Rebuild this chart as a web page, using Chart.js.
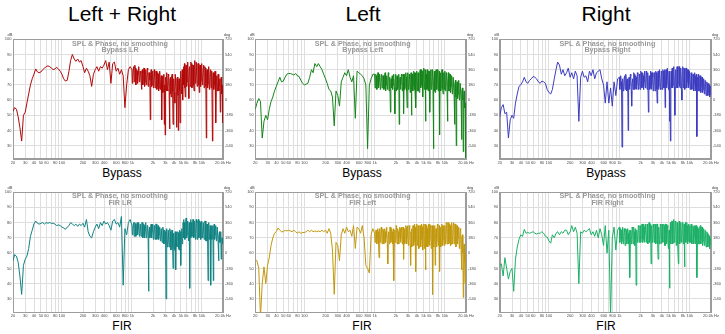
<!DOCTYPE html>
<html>
<head>
<meta charset="utf-8">
<script src="https://cdn.jsdelivr.net/npm/chart.js@4.4.1/dist/chart.umd.min.js"></script>
<style>
  body { margin: 0; width: 725px; height: 334px; background: #fff; position: relative; overflow: hidden;
         font-family: "Liberation Sans", Arial, sans-serif; color: #000; }
  .head { position: absolute; top: 3px; width: 200px; text-align: center; font-size: 21px; line-height: 21px; }
  .cap { position: absolute; width: 100px; text-align: center; font-size: 12px; line-height: 12px; }
  canvas { position: absolute; }
</style>
</head>
<body>
<div class="head" style="left:22px">Left + Right</div>
<div class="head" style="left:263px">Left</div>
<div class="head" style="left:506px">Right</div>
<div class="cap" style="left:72px;top:167px">Bypass</div>
<div class="cap" style="left:312px;top:167px">Bypass</div>
<div class="cap" style="left:556px;top:167px">Bypass</div>
<div class="cap" style="left:72px;top:320px">FIR</div>
<div class="cap" style="left:312px;top:320px">FIR</div>
<div class="cap" style="left:556px;top:320px">FIR</div>

<script>
// measurement frequencies (Hz): coarse below 1 kHz, fine above
const freqHz = [
  20, 21.1, 22.4, 23.7, 25.1, 26.6, 28.2, 29.9, 31.6, 33.5,
  35.5, 37.6, 39.8, 42.2, 44.7, 47.3, 50.1, 53.1, 56.2, 59.6,
  63.1, 66.8, 70.8, 75, 79.4, 84.1, 89.1, 94.4,
  100, 106, 112, 119, 126, 133, 141, 150, 158, 168,
  178, 188, 200, 211, 224, 237, 251, 266, 282, 299,
  316, 335, 355, 376, 398, 422, 447, 473, 501, 531,
  562, 596, 631, 668, 708, 750, 794, 841, 891, 944,
  1000, 1014, 1029, 1044, 1059, 1075, 1090, 1106, 1122, 1138, 1155, 1172, 1189, 1206, 1223, 1241, 1259, 1277, 1296, 1314,
  1334, 1353, 1372, 1392, 1413, 1433, 1454, 1475, 1496, 1518, 1540, 1562, 1585, 1608, 1631, 1655, 1679, 1703, 1728, 1753,
  1778, 1804, 1830, 1857, 1884, 1911, 1939, 1967, 1995, 2024, 2054, 2083, 2113, 2144, 2175, 2207, 2239, 2271, 2304, 2337,
  2371, 2406, 2441, 2476, 2512, 2548, 2585, 2623, 2661, 2699, 2738, 2778, 2818, 2859, 2901, 2943, 2985, 3029, 3073, 3117,
  3162, 3208, 3255, 3302, 3350, 3398, 3447, 3497, 3548, 3599, 3652, 3705, 3758, 3813, 3868, 3924, 3981, 4039, 4097, 4157,
  4217, 4278, 4340, 4403, 4467, 4531, 4597, 4664, 4732, 4800, 4870, 4940, 5012, 5084, 5158, 5233, 5309, 5386, 5464, 5543,
  5623, 5705, 5788, 5871, 5957, 6043, 6131, 6219, 6310, 6401, 6494, 6588, 6683, 6780, 6879, 6978, 7079, 7182, 7286, 7392,
  7499, 7607, 7718, 7830, 7943, 8058, 8175, 8294, 8414, 8536, 8660, 8785, 8913, 9041, 9173, 9306, 9441, 9577, 9716, 9857,
  10000, 10145, 10292, 10441, 10593, 10746, 10902, 11060, 11220, 11383, 11548, 11715, 11885, 12057, 12232, 12409, 12589, 12771, 12957, 13144,
  13335, 13528, 13725, 13924, 14125, 14330, 14538, 14748, 14962, 15179, 15399, 15622, 15849, 16078, 16312, 16548, 16788, 17031, 17278, 17528,
  17783, 18040, 18302, 18567, 18836, 19109, 19387, 19667, 19953
];

// SPL (dB) per measurement
const bypassLR = [
  52.5, 55, 54, 49, 42, 33, 50, 52, 58, 64,
  70, 74, 77, 80.5, 78.5, 78, 78.5, 80, 81, 82,
  82.5, 82, 81, 80, 80.5, 81.5, 80.5, 79,
  77, 74, 72.5, 73, 79, 86, 90, 87, 85.5, 87,
  85, 86, 82, 78, 81, 79, 76, 69, 77, 80,
  82, 79, 82, 81, 83, 86, 80, 85, 71, 84,
  85, 79, 81, 77, 80, 76, 55, 70, 80, 82,
  80, 71, 76, 81, 82, 72, 78, 83, 81, 70, 74, 80, 79, 71, 77, 82, 82, 72, 73, 79,
  78, 72, 67, 79, 80, 70, 75, 81, 81, 69, 72, 80, 79, 70, 74, 81, 80, 69, 71, 78,
  78, 73, 47, 77, 80, 69, 70, 79, 78, 68, 73, 80, 76, 68, 72, 79, 79, 67, 70, 78,
  77, 66, 68, 78, 79, 67, 70, 76, 47, 72, 76, 65, 66, 77, 44, 70, 37, 75, 72, 66,
  78, 67, 66, 77, 76, 65, 41, 73, 75, 64, 62, 76, 77, 66, 44, 72, 74, 65, 58, 77,
  77, 66, 42, 74, 75, 63, 40, 72, 74, 66, 45, 78, 79, 67, 64, 80, 60, 76, 82, 70,
  84, 68, 62, 82, 83, 69, 72, 84, 85, 70, 61, 81, 82, 69, 74, 85, 84, 68, 70, 83,
  83, 70, 66, 84, 86, 71, 75, 85, 85, 69, 72, 84, 84, 70, 65, 82, 83, 69, 73, 84,
  82, 70, 74, 81, 83, 68, 70, 82, 81, 69, 35, 78, 80, 68, 71, 81, 82, 67, 68, 79,
  80, 68, 72, 79, 33, 75, 78, 67, 70, 78, 79, 66, 45, 74, 76, 66, 68, 77, 77, 66,
  72, 74, 52, 70, 75, 64, 68, 70, 45
];
const bypassLeft = [
  54, 58, 61, 59, 35, 46, 50, 47, 54, 59,
  62, 66, 69, 72, 75, 72, 72.5, 75, 77, 77.5,
  77.5, 77, 76.5, 77.5, 76, 75.5, 73, 71,
  70, 70.5, 71, 75, 80, 78, 84, 82, 84, 82,
  80, 77, 74, 71, 67, 66, 62, 43, 66, 63,
  56, 72, 75, 78, 76, 80, 75, 72, 76, 48,
  79, 78, 77, 76, 74, 70, 28, 70, 74, 77,
  77, 68, 72, 77, 76, 67, 70, 78, 78, 68, 73, 77, 75, 67, 69, 76, 77, 68, 71, 76,
  76, 67, 68, 77, 78, 66, 70, 76, 75, 67, 72, 78, 77, 66, 69, 75, 52, 73, 74, 68,
  76, 67, 70, 77, 75, 68, 51, 74, 77, 66, 69, 76, 74, 67, 72, 77, 44, 71, 75, 67,
  70, 77, 76, 66, 68, 77, 51, 73, 77, 67, 69, 78, 75, 66, 55, 74, 78, 67, 68, 77,
  74, 65, 67, 78, 50, 72, 77, 66, 70, 79, 78, 67, 66, 78, 55, 73, 79, 66, 69, 78,
  78, 66, 65, 79, 80, 68, 70, 80, 79, 66, 62, 79, 81, 67, 68, 80, 46, 74, 77, 67,
  80, 68, 66, 79, 79, 67, 52, 76, 80, 67, 68, 80, 78, 66, 28, 72, 79, 66, 65, 78,
  80, 67, 67, 80, 79, 66, 70, 79, 37, 74, 78, 66, 69, 80, 80, 67, 64, 77, 78, 67,
  79, 66, 68, 78, 77, 65, 46, 72, 78, 66, 66, 77, 77, 65, 69, 76, 76, 64, 65, 75,
  75, 64, 44, 70, 73, 62, 30, 68, 72, 61, 64, 72, 73, 60, 62, 71, 71, 60, 34, 66,
  68, 60, 26, 62, 66, 55, 58, 50, 22
];
const bypassRight = [
  49, 55, 57, 51, 52, 35, 47, 50, 48, 58,
  64, 69, 70, 72, 75, 72, 71, 73, 74, 75.5,
  75, 74, 72, 71, 72.5, 72, 71, 67,
  65, 64, 67, 74, 80, 85, 83, 77, 80, 76,
  78, 81, 75, 78, 74, 79, 76, 46, 75, 79,
  75, 76, 72, 79, 76, 80, 74, 78, 79, 80,
  74, 70, 58, 72, 58, 68, 56, 72, 63, 74,
  75, 67, 70, 76, 72, 66, 29, 71, 74, 66, 68, 75, 76, 67, 70, 77, 73, 66, 67, 74,
  40, 71, 75, 67, 69, 77, 76, 66, 56, 72, 74, 67, 71, 78, 77, 67, 68, 76, 75, 67,
  70, 78, 77, 67, 68, 77, 76, 67, 71, 79, 78, 68, 69, 78, 76, 67, 72, 79, 78, 68,
  70, 79, 77, 67, 69, 78, 52, 72, 76, 67, 68, 79, 78, 67, 70, 78, 75, 66, 67, 78,
  77, 66, 66, 79, 78, 67, 58, 76, 79, 67, 69, 80, 80, 68, 67, 79, 78, 67, 70, 80,
  79, 68, 68, 80, 55, 74, 80, 68, 70, 81, 81, 68, 67, 79, 46, 72, 33, 70, 79, 68,
  81, 68, 70, 82, 82, 69, 50, 76, 80, 68, 69, 82, 81, 68, 72, 82, 82, 69, 68, 81,
  81, 67, 60, 78, 82, 68, 71, 81, 80, 67, 69, 81, 81, 68, 72, 80, 80, 68, 70, 79,
  79, 67, 70, 78, 78, 67, 68, 77, 77, 66, 71, 78, 76, 66, 68, 77, 36, 70, 75, 66,
  77, 66, 68, 76, 76, 65, 70, 75, 75, 65, 67, 74, 74, 64, 69, 73, 73, 63, 66, 72,
  71, 63, 66, 71, 70, 62, 64, 69, 68
];
const firLR = [
  55, 59, 58, 54, 45, 33, 52, 56, 58, 63,
  71, 75, 79, 81, 79.5, 79, 79.5, 80, 79, 80,
  79.5, 80, 79.5, 79.5, 79, 78, 78.5, 78,
  77, 76.5, 75.5, 77, 78, 80, 79, 78, 79, 77.5,
  79, 78, 79.5, 77, 82, 74, 71, 70, 74, 77,
  79, 76, 80, 78, 81, 79, 80, 78, 75, 81,
  82, 79, 80, 77, 84, 39, 76, 72, 80, 82,
  78, 72, 74, 79, 80, 71, 75, 80, 79, 71, 72, 78, 80, 72, 76, 80, 78, 71, 73, 79,
  79, 71, 74, 80, 80, 70, 72, 79, 78, 70, 75, 80, 79, 70, 71, 78, 77, 70, 35, 74,
  77, 70, 72, 78, 79, 70, 74, 79, 78, 69, 71, 78, 77, 69, 73, 79, 79, 69, 70, 77,
  78, 69, 72, 77, 77, 68, 69, 76, 76, 67, 71, 77, 75, 66, 68, 75, 74, 66, 30, 70,
  76, 64, 65, 75, 75, 64, 68, 76, 74, 62, 63, 75, 75, 64, 50, 70, 73, 62, 64, 74,
  49, 70, 74, 64, 65, 74, 73, 63, 62, 75, 74, 64, 52, 72, 76, 66, 70, 80, 82, 70,
  80, 69, 70, 82, 83, 70, 72, 81, 81, 69, 68, 80, 37, 74, 82, 70, 80, 71, 71, 82,
  82, 70, 71, 81, 81, 69, 73, 82, 80, 69, 69, 81, 82, 70, 72, 81, 80, 69, 70, 80,
  81, 70, 72, 80, 80, 69, 70, 81, 81, 68, 68, 79, 79, 68, 42, 74, 80, 69, 71, 78,
  39, 72, 78, 69, 70, 78, 42, 73, 79, 69, 72, 78, 78, 68, 70, 77, 77, 67, 55, 71,
  74, 67, 68, 74, 56, 66, 70, 66, 68
];
const firLeft = [
  56, 55, 50, 18, 40, 51, 40, 52, 57, 65,
  70, 73, 74, 76.5, 75, 74, 74, 75, 74.5, 75,
  74.5, 74, 75, 74, 73, 74, 73, 73.5,
  73.5, 74, 75, 74, 75, 74, 74.5, 74, 74.5, 74,
  75, 74, 75, 73, 76, 73, 62, 33, 67, 65,
  55, 72, 76, 73, 77, 74, 75, 71, 78, 63,
  77, 76, 73, 78, 70, 52, 50, 47, 72, 76,
  73, 67, 68, 75, 75, 66, 70, 76, 74, 66, 57, 72, 76, 67, 69, 77, 73, 66, 70, 76,
  75, 66, 68, 76, 74, 67, 71, 77, 76, 66, 53, 72, 74, 66, 69, 77, 77, 67, 70, 76,
  74, 66, 69, 76, 42, 71, 75, 67, 70, 78, 77, 66, 68, 76, 74, 66, 71, 77, 76, 67,
  69, 77, 75, 66, 70, 77, 56, 72, 76, 66, 68, 78, 77, 66, 71, 78, 75, 65, 68, 78,
  77, 65, 52, 74, 76, 64, 66, 78, 78, 65, 68, 79, 77, 64, 48, 73, 79, 65, 67, 78,
  76, 63, 64, 78, 78, 64, 69, 79, 77, 62, 62, 78, 79, 63, 66, 79, 49, 72, 78, 64,
  76, 64, 66, 79, 79, 65, 68, 78, 77, 63, 65, 78, 33, 70, 78, 64, 70, 78, 52, 72,
  76, 64, 67, 79, 78, 65, 70, 78, 48, 72, 77, 64, 66, 79, 78, 65, 69, 78, 77, 65,
  78, 66, 67, 80, 79, 66, 70, 80, 80, 66, 68, 79, 78, 65, 66, 80, 80, 66, 69, 79,
  80, 66, 68, 79, 79, 64, 65, 78, 78, 66, 70, 77, 77, 63, 64, 76, 75, 62, 49, 70,
  72, 60, 31, 62, 66, 55, 40, 58, 60
];
const firRight = [
  52, 53, 45, 57, 50, 43, 48, 50, 35, 56,
  64, 69, 72, 71, 75.5, 73, 73.5, 73, 73.5, 74,
  73, 72.5, 73, 73, 74, 73, 71, 70.5,
  68, 66.5, 72, 70, 73, 74, 72, 74, 73, 75,
  75, 72, 74, 78, 74, 77, 73, 40, 74, 73,
  75, 74, 75, 76, 72, 74, 71, 75, 70, 76,
  72, 65, 78, 60, 75, 18, 70, 77, 62, 75,
  77, 67, 70, 76, 75, 66, 68, 77, 76, 66, 71, 76, 74, 65, 66, 76, 75, 66, 70, 76,
  73, 66, 68, 75, 44, 70, 75, 66, 69, 77, 76, 66, 70, 77, 74, 65, 68, 76, 39, 70,
  75, 67, 70, 78, 77, 67, 68, 78, 78, 67, 71, 79, 79, 67, 69, 79, 77, 67, 72, 79,
  79, 67, 70, 79, 78, 66, 68, 80, 80, 67, 71, 79, 53, 72, 78, 67, 69, 79, 77, 67,
  70, 79, 78, 66, 67, 79, 79, 66, 56, 74, 77, 66, 69, 79, 78, 66, 66, 79, 79, 67,
  68, 79, 78, 65, 65, 79, 79, 66, 67, 78, 77, 64, 63, 75, 37, 72, 80, 66, 76, 81,
  81, 66, 67, 82, 82, 67, 70, 81, 80, 65, 66, 80, 79, 66, 53, 76, 81, 66, 68, 80,
  80, 67, 69, 80, 79, 66, 70, 79, 51, 74, 80, 67, 70, 80, 78, 66, 68, 79, 79, 67,
  78, 67, 70, 79, 79, 66, 68, 78, 77, 66, 71, 78, 78, 66, 69, 78, 44, 70, 77, 66,
  76, 66, 69, 77, 78, 66, 70, 77, 77, 65, 68, 76, 76, 65, 70, 75, 75, 64, 67, 74,
  73, 64, 67, 72, 71, 63, 66, 70, 68
];

// axes
const dbTicks = [30, 40, 50, 60, 70, 80, 90, 100];
const degTicks = [-540, -360, -180, 0, 180, 360, 540, 720];
const freqGridHz = [20, 30, 40, 50, 60, 70, 80, 90, 100, 200, 300, 400, 500, 600, 700, 800, 900,
                    1000, 2000, 3000, 4000, 5000, 6000, 7000, 8000, 9000, 10000, 20000];
const freqLabelHz = [20, 30, 40, 50, 60, 80, 100, 200, 300, 400, 600, 800,
                     1000, 2000, 3000, 4000, 5000, 6000, 8000, 10000, 20000];
const freqLabelText = ['20', '30', '40', '50', '60', '80', '100', '200', '300', '400', '600', '800',
                       '1k', '2k', '3k', '4k', '5k', '6k', '8k', '10k', '20.0k Hz'];

const DB_MIN = 21, DB_MAX = 100;
const degOf = db => (db - 60) * 18;

const freqLabel = {};
freqLabelHz.forEach((f, i) => { freqLabel[f] = freqLabelText[i]; });

// page geometry of the six graphs
const cols = [
  { left: 0,   width: 242, plotL: 13,    plotR: 223 },
  { left: 242, width: 242, plotL: 255.3, plotR: 466 },
  { left: 484, width: 241, plotL: 499.7, plotR: 711 }
];
const rows = [
  { top: 30,  height: 140, plotT: 39.3, plotB: 159.3 },
  { top: 183, height: 140, plotT: 192,  plotB: 312.7 }
];

const panels = [
  { name: 'Bypass LR',    values: bypassLR,    color: '#b20808', col: 0, row: 0 },
  { name: 'Bypass Left',  values: bypassLeft,  color: '#15841a', col: 1, row: 0 },
  { name: 'Bypass Right', values: bypassRight, color: '#3c3cc0', col: 2, row: 0 },
  { name: 'FIR LR',       values: firLR,       color: '#118282', col: 0, row: 1 },
  { name: 'FIR Left',     values: firLeft,     color: '#c2980c', col: 1, row: 1 },
  { name: 'FIR Right',    values: firRight,    color: '#1cb066', col: 2, row: 1 }
];

const GRID = '#dedede';
const FRAME = '#9c9c9c';
const TICK = '#4a4a4a';
const FONT = '"Liberation Sans", Arial, sans-serif';

// frame, headings and unit labels of each graph
const panelText = {
  id: 'panelText',
  beforeDatasetsDraw(chart, args, opts) {
    const { ctx, chartArea: a } = chart;
    ctx.save();
    ctx.strokeStyle = FRAME;
    ctx.lineWidth = 1;
    ctx.strokeRect(Math.round(a.left) + 0.5, Math.round(a.top) + 0.5,
                   Math.round(a.right - a.left) - 1, Math.round(a.bottom - a.top) - 1);
    const cx = (a.left + a.right) / 2 + 2;
    ctx.fillStyle = '#9a9a9a';
    ctx.font = 'bold 7.2px ' + FONT;
    ctx.textAlign = 'center';
    ctx.textBaseline = 'alphabetic';
    ctx.fillText('SPL & Phase, no smoothing', cx, a.top + 6.4);
    ctx.fillText(opts.label, cx, a.top + 13);
    ctx.fillStyle = TICK;
    ctx.font = '4px ' + FONT;
    ctx.fillText('dB', a.left - 3, a.top - 3);
    ctx.fillText('deg', a.right + 4, a.top - 3);
    ctx.restore();
  }
};

panels.forEach(p => {
  const c = cols[p.col], r = rows[p.row];
  const canvas = document.createElement('canvas');
  canvas.width = c.width;
  canvas.height = r.height;
  canvas.style.left = c.left + 'px';
  canvas.style.top = r.top + 'px';
  canvas.style.width = c.width + 'px';
  canvas.style.height = r.height + 'px';
  document.body.appendChild(canvas);

  const leftW = c.plotL - c.left;
  const rightW = c.left + c.width - c.plotR;
  const padTop = r.plotT - r.top;
  const bottomH = r.top + r.height - r.plotB;

  const points = [];
  const n = Math.min(freqHz.length, p.values.length);
  for (let i = 0; i < n; i++) points.push({ x: freqHz[i], y: p.values[i] });

  new Chart(canvas, {
    type: 'line',
    data: {
      datasets: [{
        data: points,
        borderColor: p.color,
        borderWidth: 1,
        pointRadius: 0,
        tension: 0,
        fill: false
      }]
    },
    options: {
      responsive: false,
      animation: false,
      devicePixelRatio: 1,
      layout: { padding: { top: padTop, left: 0, right: 0, bottom: 0 } },
      plugins: {
        legend: { display: false },
        tooltip: { enabled: false },
        panelText: { label: p.name }
      },
      scales: {
        x: {
          type: 'logarithmic',
          min: 20,
          max: 20000,
          afterBuildTicks: s => { s.ticks = freqGridHz.map(v => ({ value: v })); },
          afterFit: s => { s.height = bottomH; },
          ticks: {
            autoSkip: false, maxRotation: 0, minRotation: 0, padding: 1,
            color: TICK, font: { size: 4, family: FONT },
            callback: v => freqLabel[v] || ''
          },
          grid: { color: GRID, drawTicks: false },
          border: { color: FRAME }
        },
        y: {
          position: 'left',
          min: DB_MIN,
          max: DB_MAX,
          afterBuildTicks: s => { s.ticks = dbTicks.map(v => ({ value: v })); },
          afterFit: s => { s.width = leftW; },
          ticks: { padding: 1.5, color: TICK, font: { size: 4, family: FONT } },
          grid: { color: GRID, drawTicks: false },
          border: { color: FRAME }
        },
        y1: {
          position: 'right',
          min: degOf(DB_MIN),
          max: degOf(DB_MAX),
          afterBuildTicks: s => { s.ticks = degTicks.map(v => ({ value: v })); },
          afterFit: s => { s.width = rightW; },
          ticks: { padding: 2, color: TICK, font: { size: 4, family: FONT } },
          grid: { display: false, drawTicks: false },
          border: { color: FRAME }
        }
      }
    },
    plugins: [panelText]
  });
});
</script>
</body>
</html>
